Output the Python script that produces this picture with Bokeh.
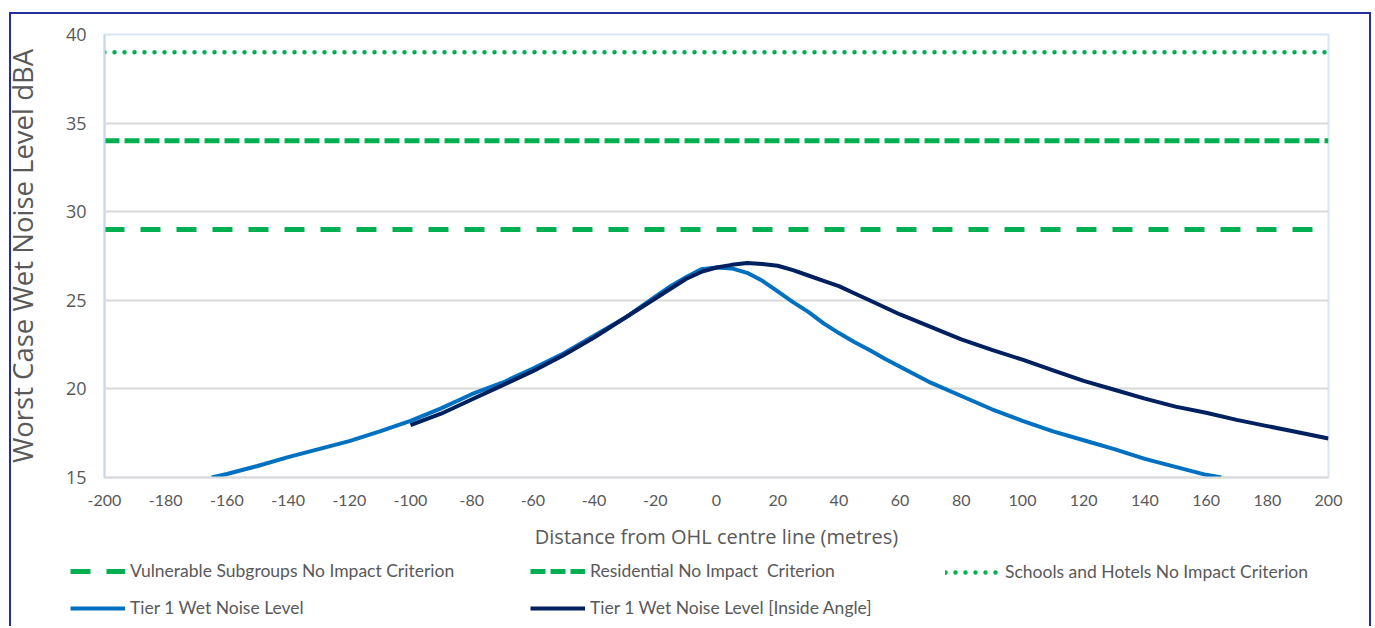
from bokeh.plotting import figure
from bokeh.models import Legend, LegendItem, Range1d, FixedTicker
from bokeh.embed import file_html
from bokeh.resources import INLINE

# ---- data ----
tier1_x = [-165, -160, -150, -140, -130, -120, -110, -100, -90, -80, -70, -60, -50, -40, -30,
           -25, -20, -15, -10, -5, 0, 5, 10, 15, 20, 25, 30, 35, 40, 45, 50, 55, 60, 70, 80,
           90, 100, 110, 120, 130, 140, 150, 160, 165]
tier1_y = [15.0, 15.2, 15.65, 16.15, 16.6, 17.05, 17.6, 18.2, 18.9, 19.7, 20.35, 21.15, 22.0,
           23.0, 24.0, 24.6, 25.2, 25.8, 26.3, 26.75, 26.85, 26.8, 26.55, 26.1, 25.5, 24.9,
           24.35, 23.7, 23.15, 22.65, 22.2, 21.7, 21.25, 20.35, 19.6, 18.85, 18.2, 17.6, 17.1,
           16.6, 16.05, 15.6, 15.15, 15.0]

inside_x = [-100, -90, -80, -70, -60, -50, -40, -30, -25, -20, -15, -10, -5, 0, 5, 10, 15, 20,
            25, 30, 35, 40, 45, 50, 60, 70, 80, 90, 100, 110, 120, 130, 140, 150, 160, 170,
            180, 190, 200]
inside_y = [17.95, 18.6, 19.4, 20.2, 21.0, 21.9, 22.9, 24.0, 24.55, 25.1, 25.65, 26.2, 26.6,
            26.85, 27.0, 27.1, 27.05, 26.95, 26.7, 26.4, 26.1, 25.8, 25.4, 25.0, 24.2, 23.5,
            22.8, 22.2, 21.65, 21.05, 20.45, 19.95, 19.45, 19.0, 18.65, 18.25, 17.9, 17.55,
            17.2]

criteria_x = [-200, 200]
vulnerable_level = 29
residential_level = 34
schools_level = 39

x_ticks = list(range(-200, 201, 20))
y_ticks = [15, 20, 25, 30, 35, 40]

labels = ["Vulnerable Subgroups No Impact Criterion",
          "Residential No Impact  Criterion",
          "Schools and Hotels No Impact Criterion",
          "Tier 1 Wet Noise Level",
          "Tier 1 Wet Noise Level [Inside Angle]"]

GREEN = "#00B050"
LBLUE = "#0070C0"
NAVY = "#002060"
TXT = "#595959"
FRAME = "#23309C"

styles_vul = dict(line_color=GREEN, line_width=5, line_dash="20 16")
styles_res = dict(line_color=GREEN, line_width=5, line_dash="15 5")
styles_sch = dict(line_color=GREEN, line_width=4.5, line_dash="0 10", line_cap="round")
styles_t1 = dict(line_color=LBLUE, line_width=4, line_join="round")
styles_in = dict(line_color=NAVY, line_width=4, line_join="round")

G = f"linear-gradient({FRAME}, {FRAME})"
main_frame = (f"{G} 9px 12px / 1362px 2px no-repeat, "
              f"{G} 9px 12px / 2px calc(100% - 12px) no-repeat, "
              f"{G} 1369px 12px / 2px calc(100% - 12px) no-repeat")
side_lines = f"{G} 9px 0 / 2px 100% no-repeat, {G} 1369px 0 / 2px 100% no-repeat"

# ---- main chart ----
p = figure(width=1371, height=557, output_backend="svg", toolbar_location=None,
           x_range=Range1d(-200, 200), y_range=Range1d(15, 40),
           min_border_left=104, min_border_right=43, min_border_top=34, min_border_bottom=80)
p.styles = {"background": main_frame}
p.background_fill_color = "white"
p.border_fill_color = None
p.outline_line_color = "#DCE3F2"
p.outline_line_width = 2

p.line(criteria_x, [vulnerable_level] * 2, **styles_vul)
p.line(criteria_x, [residential_level] * 2, **styles_res)
p.line(criteria_x, [schools_level] * 2, **styles_sch)
p.line(tier1_x, tier1_y, **styles_t1)
p.line(inside_x, inside_y, **styles_in)

p.xaxis.ticker = FixedTicker(ticks=x_ticks)
p.yaxis.ticker = FixedTicker(ticks=y_ticks)
p.xaxis.major_label_overrides = {t: str(t) for t in x_ticks}
p.xgrid.grid_line_color = None
p.ygrid.grid_line_color = "#D9D9D9"
p.ygrid.grid_line_width = 2

for ax in (p.xaxis[0], p.yaxis[0]):
    ax.major_tick_line_color = None
    ax.minor_tick_line_color = None
    ax.major_tick_out = 0
    ax.major_tick_in = 0
    ax.minor_tick_out = 0
    ax.minor_tick_in = 0
    ax.major_label_text_color = TXT
    ax.axis_label_text_color = TXT
    ax.axis_label_text_font_style = "normal"

p.xaxis.axis_line_color = "#D9D9D9"
p.xaxis.axis_line_width = 2
p.yaxis.axis_line_color = "#C9D6EF"
p.yaxis.axis_line_width = 2

p.xaxis.major_label_text_font = "Lato"
p.xaxis.major_label_text_font_size = "16px"
p.xaxis.major_label_standoff = 17
p.xaxis.axis_label = "Distance from OHL centre line (metres)"
p.xaxis.axis_label_text_font = "Open Sans"
p.xaxis.axis_label_text_font_size = "20px"
p.xaxis.axis_label_standoff = 14

p.yaxis.major_label_text_font = "Open Sans"
p.yaxis.major_label_text_font_size = "18px"
p.yaxis.major_label_standoff = 18
p.yaxis.axis_label = "Worst Case Wet Noise Level dBA"
p.yaxis.axis_label_text_font = "Open Sans"
p.yaxis.axis_label_text_font_size = "27.5px"
p.yaxis.axis_label_standoff = 22

# ---- legend strip ----
lg = figure(width=1371, height=69, output_backend="svg", toolbar_location=None,
            x_range=Range1d(0, 1), y_range=Range1d(0, 1),
            x_axis_location=None, y_axis_location=None, min_border=0)
lg.min_border_left = lg.min_border_right = lg.min_border_top = lg.min_border_bottom = 0
lg.styles = {"background": side_lines}
lg.grid.visible = False
lg.outline_line_color = None
lg.background_fill_color = None
lg.border_fill_color = None

# legend-only renderers (their data lies outside this strip's ranges)
g_vul = lg.line(criteria_x, [vulnerable_level] * 2, **styles_vul)
g_res = lg.line(criteria_x, [residential_level] * 2, **styles_res)
g_sch = lg.line(criteria_x, [schools_level] * 2, **styles_sch)
g_t1 = lg.line(tier1_x, tier1_y, **styles_t1)
g_in = lg.line(inside_x, inside_y, **styles_in)


def make_legend(items, loc):
    leg = Legend(items=items, location=loc, orientation="vertical",
                 glyph_width=55, glyph_height=20, label_height=20, spacing=16,
                 padding=0, margin=0, label_standoff=5,
                 label_text_font="Lato", label_text_font_size="17.5px",
                 label_text_color=TXT, border_line_color=None,
                 background_fill_alpha=0)
    lg.add_layout(leg, "center")


make_legend([LegendItem(label=labels[0], renderers=[g_vul]),
             LegendItem(label=labels[3], renderers=[g_t1])], (70, 8))
make_legend([LegendItem(label=labels[1], renderers=[g_res]),
             LegendItem(label=labels[4], renderers=[g_in])], (530, 8))
make_legend([LegendItem(label=labels[2], renderers=[g_sch])], (945, 44))

open("out.html", "w").write(file_html([p, lg], INLINE))
